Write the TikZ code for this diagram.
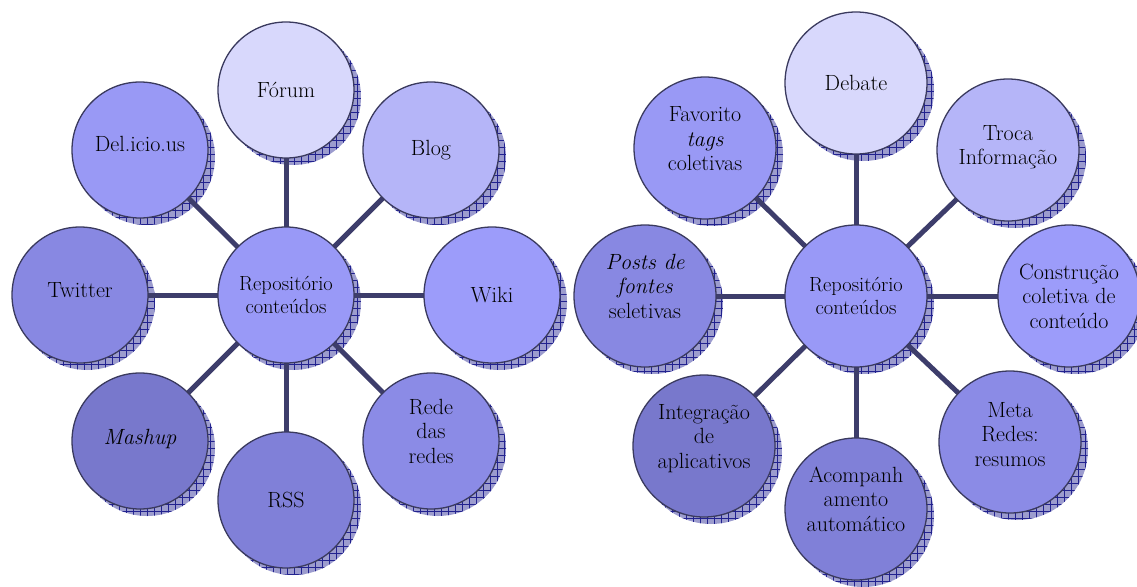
\documentclass[tikz,border=0pt]{standalone}
\usepackage{fontspec}
\usetikzlibrary{calc}
\pgfdeclarelayer{shadowlayer}
\pgfdeclarelayer{linelayer}
\pgfsetlayers{shadowlayer,linelayer,main}
\definecolor{cForum}{HTML}{D8D8FC}
\definecolor{cBlog}{HTML}{B5B5F8}
\definecolor{cWiki}{HTML}{9C9CFA}
\definecolor{cHub}{HTML}{9999F7}
\definecolor{cDel}{HTML}{9999F5}
\definecolor{cTwit}{HTML}{8888E2}
\definecolor{cRede}{HTML}{8B8BE6}
\definecolor{cRSS}{HTML}{8080D8}
\definecolor{cMash}{HTML}{7878CC}
\definecolor{shadcol}{HTML}{9C9CCE}
\definecolor{hatchcol}{HTML}{22228F}
\definecolor{spokecol}{HTML}{3D3D6B}
\definecolor{bord}{HTML}{3A3A5E}
\tikzset{
  bubble/.style={circle, draw=bord, line width=1.3pt, minimum size=136pt,
    inner sep=0pt, align=center, text=black, font=\fontsize{22}{24.5}\selectfont},
  bigbub/.style={minimum size=142pt},
  hub/.style={font=\fontsize{20.5}{23.5}\selectfont},
  liftby/.style={text depth=#1},
  spoke/.style={line width=5pt, draw=spokecol},
  hatch/.style={draw=hatchcol, line width=0.45pt},
}
\newcommand\bubshadow[2]{%
  \fill[shadcol] ($(#1)+(7,7)$) circle (#2);
  \begin{scope}
    \clip ($(#1)+(7,7)$) circle (#2);
    \draw[hatch] ($(#1)+(-72,-72)$) grid[step=7pt] ($(#1)+(86,86)$);
  \end{scope}}
\begin{document}
\begin{tikzpicture}[x=1pt,y=-1pt]
\useasboundingbox (0,0) rectangle (1137,586);
% ---------- left diagram ----------
\node[bubble, hub, fill=cHub] (hubL) at (286,295) {Repositório\\conteúdos};
\node[bubble, fill=cForum] (forum) at (286,90) {Fórum};
\node[bubble, fill=cBlog] (blog) at (431,150) {Blog};
\node[bubble, fill=cWiki] (wiki) at (492,295) {Wiki};
\node[bubble, fill=cRede, liftby=20pt] (rede) at (431,441) {Rede\\das\\redes};
\node[bubble, fill=cRSS] (rss) at (286,500) {RSS};
\node[bubble, fill=cMash, liftby=9pt] (mashup) at (140,441) {\itshape Mashup};
\node[bubble, fill=cTwit, liftby=9pt] (twitter) at (80,295) {Twitter};
\node[bubble, fill=cDel, liftby=12pt] (delicious) at (140,150) {Del.icio.us};
% ---------- right diagram ----------
\node[bubble, bigbub, hub, fill=cHub] (hubR) at (856,296) {Repositório\\conteúdos};
\node[bubble, bigbub, fill=cForum] (debate) at (856,83) {Debate};
\node[bubble, bigbub, fill=cBlog, liftby=10pt] (troca) at (1008,150) {Troca\\Informação};
\node[bubble, bigbub, fill=cWiki] (constr) at (1069,296) {Construção\\coletiva de\\conteúdo};
\node[bubble, bigbub, fill=cRede, liftby=16pt] (meta) at (1010,442) {Meta\\Redes:\\resumos};
\node[bubble, bigbub, fill=cRSS, liftby=20pt] (acomp) at (856,509) {Acompanh\\amento\\automático};
\node[bubble, bigbub, fill=cMash, liftby=20pt] (integ) at (704,446) {Integração\\de\\aplicativos};
\node[bubble, bigbub, fill=cTwit, liftby=20pt] (posts) at (645,296) {\itshape Posts de\\\itshape fontes\\seletivas};
\node[bubble, bigbub, fill=cDel, liftby=18pt] (fav) at (705,148) {Favorito\\\itshape tags\\coletivas};
% ---------- spokes ----------
\begin{pgfonlayer}{linelayer}
  \foreach \n in {forum,blog,wiki,rede,rss,mashup,twitter,delicious}
    \draw[spoke] (hubL.center) -- (\n.center);
  \foreach \n in {debate,troca,constr,meta,acomp,integ,posts,fav}
    \draw[spoke] (hubR.center) -- (\n.center);
\end{pgfonlayer}
% ---------- shadows ----------
\begin{pgfonlayer}{shadowlayer}
  \foreach \n in {hubL,forum,blog,wiki,rede,rss,mashup,twitter,delicious}
    {\bubshadow{\n}{68pt}}
  \foreach \n in {hubR,debate,troca,constr,meta,acomp,integ,posts,fav}
    {\bubshadow{\n}{71pt}}
\end{pgfonlayer}
\end{tikzpicture}
\end{document}
